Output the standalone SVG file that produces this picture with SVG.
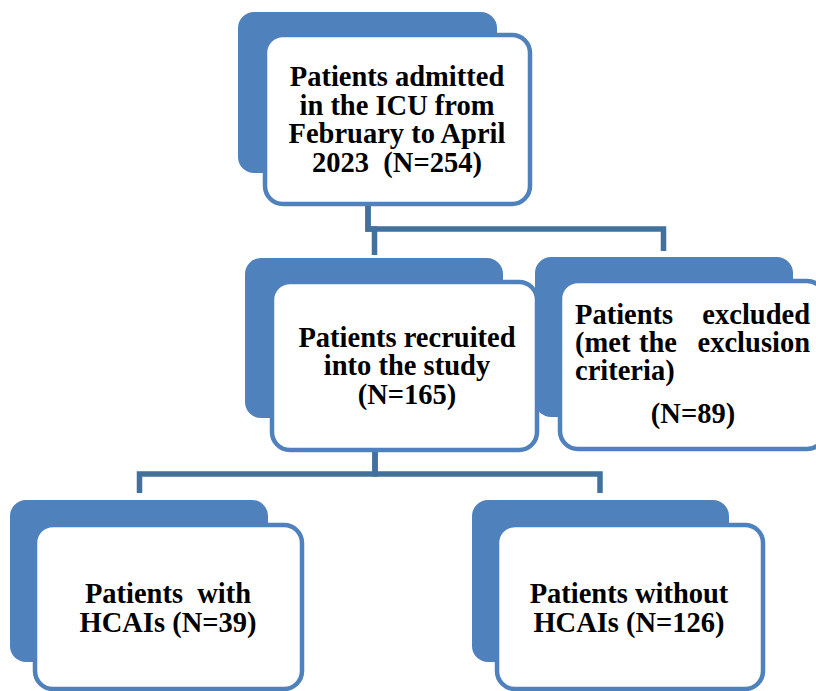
<svg xmlns="http://www.w3.org/2000/svg" width="816" height="691" viewBox="0 0 816 691">
<style>
.back{fill:#4F81BD;}
.front{fill:#FFFFFF;stroke:#4F81BD;stroke-width:4.5;}
.conn{fill:none;stroke:#41719C;stroke-width:5.5;stroke-linejoin:miter;}
text{font-family:"Liberation Serif","Times New Roman",serif;font-weight:bold;font-size:28.5px;fill:#000;}
.c{text-anchor:middle;}
.e{text-anchor:end;}
</style>
<rect width="816" height="691" fill="#FFFFFF"/>
<g id="connectors">
<path class="conn" d="M368,204 V229 H663.5 V251"/>
<path class="conn" d="M368,204 V229 H374.5 V255"/>
<path class="conn" d="M375,450 V474 H139.5 V493"/>
<path class="conn" d="M375,450 V474 H600 V493"/>
</g>
<g id="node-admitted">
<rect class="back" x="238" y="12" width="259" height="161" rx="16"/>
<rect class="front" x="265" y="35" width="265" height="169" rx="18"/>
<text class="c" x="397" y="86">Patients admitted</text>
<text class="c" x="397" y="115">in the ICU from</text>
<text class="c" x="397" y="143">February to April</text>
<text class="c" x="397" y="172" xml:space="preserve">2023  (N=254)</text>
</g>
<g id="node-recruited">
<rect class="back" x="245" y="258" width="258" height="160" rx="16"/>
<rect class="front" x="272" y="282" width="265" height="168" rx="18"/>
<text class="c" x="407" y="347">Patients recruited</text>
<text class="c" x="407" y="375">into the study</text>
<text class="c" x="407" y="404">(N=165)</text>
</g>
<g id="node-excluded">
<rect class="back" x="535" y="257" width="258" height="160" rx="16"/>
<rect class="front" x="560" y="281" width="265" height="168" rx="18"/>
<text x="575" y="324">Patients</text>
<text class="e" x="810" y="324">excluded</text>
<text x="575" y="352">(met</text>
<text class="c" x="658" y="352">the</text>
<text class="e" x="810" y="352">exclusion</text>
<text x="575" y="380">criteria)</text>
<text class="c" x="693" y="423">(N=89)</text>
</g>
<g id="node-with">
<rect class="back" x="10" y="500" width="258" height="162" rx="16"/>
<rect class="front" x="35" y="525" width="267" height="164" rx="18"/>
<text class="c" x="168" y="603" xml:space="preserve">Patients  with</text>
<text class="c" x="168" y="632">HCAIs (N=39)</text>
</g>
<g id="node-without">
<rect class="back" x="472" y="500" width="257" height="162" rx="16"/>
<rect class="front" x="497" y="525" width="266" height="164" rx="18"/>
<text class="c" x="629" y="603">Patients without</text>
<text class="c" x="629" y="632">HCAIs (N=126)</text>
</g>
</svg>
